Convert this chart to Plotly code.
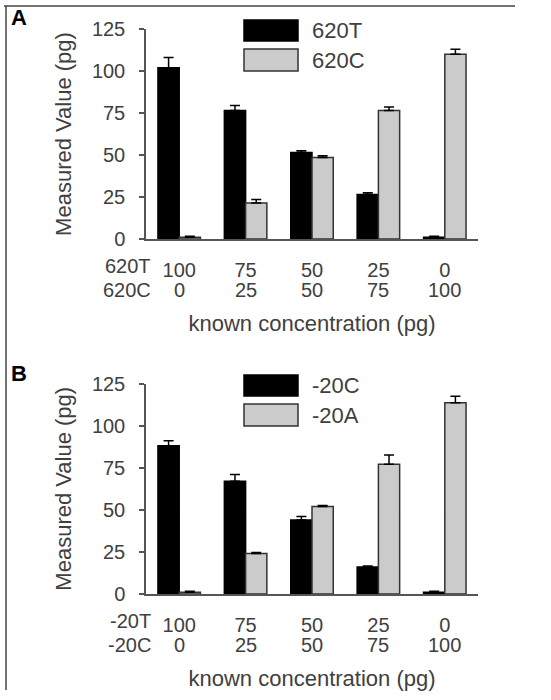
import plotly.graph_objects as go

# ---------------- data ----------------
categories = [0, 1, 2, 3, 4]
row1_A = ["100", "75", "50", "25", "0"]
row2_A = ["0", "25", "50", "75", "100"]
row1_B = ["100", "75", "50", "25", "0"]
row2_B = ["0", "25", "50", "75", "100"]
row_names_A = ["620T", "620C"]
row_names_B = ["-20T", "-20C"]

series_A_names = ["620T", "620C"]
A_620T = [102, 76.5, 51.5, 26.5, 1]
A_620T_err = [6, 3, 1, 1, 0.6]
A_620C = [1, 21.5, 48.5, 76.5, 110]
A_620C_err = [0.6, 2, 1, 2, 3]

series_B_names = ["-20C", "-20A"]
B_20C = [88, 67, 44, 16, 1]
B_20C_err = [3, 4, 2, 0.6, 0.6]
B_20A = [1, 24, 52, 77, 113.5]
B_20A_err = [0.6, 0.6, 0.6, 5.5, 4]

y_ticks = [0, 25, 50, 75, 100, 125]

# ---------------- layout geometry ----------------
W, H = 551, 700
ML, MR, MT, MB = 146, 73, 29, 106
PW, PH = W - ML - MR, H - MT - MB

def px(x):
    return (x - ML) / PW

def py(y):
    return (H - MB - y) / PH

A_dom = [py(239), py(29)]
B_dom = [py(594), py(383.5)]

FONT = "Liberation Sans, Arial, sans-serif"
TXT = "#404040"
AX = "#555555"
BLACK = "#000000"
GRAY = "#cbcbcb"
EDGE = "#333333"

fig = go.Figure()

def add_bars(vals, errs, name, color, xa, ya):
    fig.add_trace(go.Bar(
        x=categories, y=vals, name=name, xaxis=xa, yaxis=ya,
        marker=dict(color=color, line=dict(color=EDGE if color != BLACK else BLACK, width=1.5)),
        error_y=dict(type="data", symmetric=False, array=errs,
                     arrayminus=[0] * len(errs), color=BLACK, thickness=1.5, width=5),
        showlegend=False,
    ))

add_bars(A_620T, A_620T_err, series_A_names[0], BLACK, "x", "y")
add_bars(A_620C, A_620C_err, series_A_names[1], GRAY, "x", "y")
add_bars(B_20C, B_20C_err, series_B_names[0], BLACK, "x2", "y2")
add_bars(B_20A, B_20A_err, series_B_names[1], GRAY, "x2", "y2")

def xaxis_cfg(ticktext, anchor):
    return dict(
        domain=[0, 1], anchor=anchor, range=[-0.5, 4.5],
        tickmode="array", tickvals=categories, ticktext=ticktext,
        ticks="", showline=True, linecolor=AX, linewidth=1.5,
        showgrid=False, zeroline=False,
        tickfont=dict(family=FONT, size=20, color=TXT),
        ticklabelstandoff=12,
        title=dict(text="known concentration (pg)", standoff=36,
                   font=dict(family=FONT, size=22, color=TXT)),
    )

def yaxis_cfg(dom, anchor):
    return dict(
        domain=dom, anchor=anchor, range=[0, 125],
        tickmode="array", tickvals=y_ticks,
        ticks="outside", ticklen=5, tickwidth=1.5, tickcolor=AX,
        showline=True, linecolor=AX, linewidth=1.5,
        showgrid=False, zeroline=False,
        tickfont=dict(family=FONT, size=20, color=TXT),
        ticklabelstandoff=10,
        title=dict(text="Measured Value (pg)", standoff=14,
                   font=dict(family=FONT, size=22, color=TXT)),
    )

fig.update_layout(
    width=W, height=H,
    margin=dict(l=ML, r=MR, t=MT, b=MB, autoexpand=False),
    paper_bgcolor="white", plot_bgcolor="white",
    barmode="group", bargap=0.36, bargroupgap=0,
    xaxis=xaxis_cfg(row1_A, "y"),
    yaxis=yaxis_cfg(A_dom, "x"),
    xaxis2=xaxis_cfg(row1_B, "y2"),
    yaxis2=yaxis_cfg(B_dom, "x2"),
)

annotations = []
shapes = []

def panel_extras(axis_y0_px, row2, row_names, xref, legend_names, letter, letter_y):
    # second row of category labels
    for c, t in zip(categories, row2):
        annotations.append(dict(x=c, y=py(axis_y0_px + 51), xref=xref, yref="paper",
                                text=t, showarrow=False, xanchor="center", yanchor="middle",
                                font=dict(family=FONT, size=20, color=TXT)))
    # row names
    for i, nm in enumerate(row_names):
        annotations.append(dict(x=px(153), y=py(axis_y0_px + 27 + 24 * i), xref="paper", yref="paper",
                                text=nm, showarrow=False, xanchor="right", yanchor="middle",
                                font=dict(family=FONT, size=20, color=TXT)))
    # legend (manual, large swatches)
    top = axis_y0_px - 210
    boxes = [(top - 9, top + 12, BLACK, BLACK), (top + 20, top + 42, GRAY, EDGE)]
    for (y0, y1, fill, edge), nm in zip(boxes, legend_names):
        shapes.append(dict(type="rect", xref="paper", yref="paper",
                           x0=px(244), x1=px(298), y0=py(y1), y1=py(y0),
                           fillcolor=fill, line=dict(color=edge, width=1.5)))
        annotations.append(dict(x=px(310), y=py((y0 + y1) / 2), xref="paper", yref="paper",
                                text=nm, showarrow=False, xanchor="left", yanchor="middle",
                                font=dict(family=FONT, size=22, color=TXT)))
    # panel letter
    annotations.append(dict(x=px(9), y=py(letter_y), xref="paper", yref="paper",
                            text="<b>" + letter + "</b>", showarrow=False,
                            xanchor="left", yanchor="middle",
                            font=dict(family=FONT, size=22, color=BLACK)))

panel_extras(239, row2_A, row_names_A, "x", series_A_names, "A", 17)
panel_extras(594, row2_B, row_names_B, "x2", series_B_names, "B", 373)

# figure frame (top and left edges)
shapes.append(dict(type="line", xref="paper", yref="paper",
                   x0=px(4), x1=px(515), y0=py(6), y1=py(6), line=dict(color="#444", width=1.5)))
shapes.append(dict(type="line", xref="paper", yref="paper",
                   x0=px(6), x1=px(6), y0=py(6), y1=py(690), line=dict(color="#444", width=1.5)))

fig.update_layout(annotations=annotations, shapes=shapes)

fig.write_html("out.html", config={"displayModeBar": False},
               post_script="document.body.style.margin='0';document.body.style.overflow='hidden';")
